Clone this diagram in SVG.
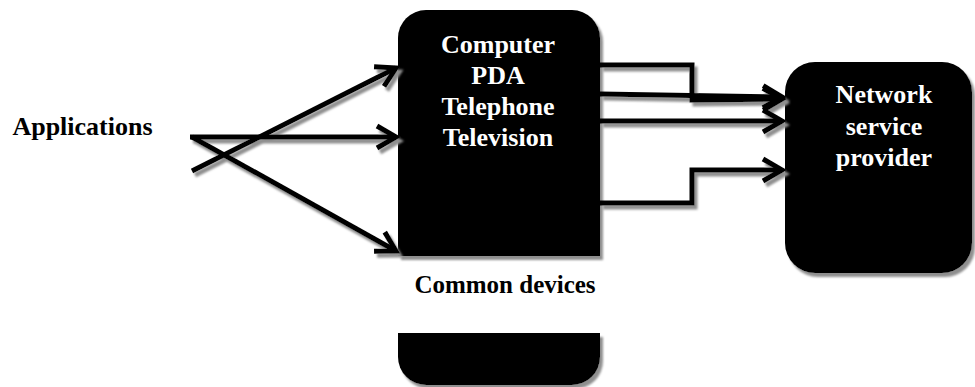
<svg xmlns="http://www.w3.org/2000/svg" width="975" height="387" viewBox="0 0 975 387">
<defs>
<filter id="sh" x="-10%" y="-10%" width="130%" height="130%">
<feDropShadow dx="3" dy="4" stdDeviation="0.9" flood-color="#8f8f8f" flood-opacity="1"/>
</filter>
<marker id="ah" markerUnits="userSpaceOnUse" markerWidth="30" markerHeight="30" viewBox="-25 -15 30 30" refX="0" refY="0" orient="auto" overflow="visible">
<path d="M-19,-11 L0,0 L-19,11" fill="none" stroke="#000" stroke-width="5"/>
</marker>
</defs>
<style>
.box{fill:#000;filter:url(#sh)}
.w{fill:#fff;font-family:"Liberation Serif","Times New Roman",serif;font-weight:bold;font-size:26px;text-anchor:middle}
.k{fill:#000;font-family:"Liberation Serif","Times New Roman",serif;font-weight:bold;text-anchor:middle}
.c{fill:none;stroke:#000;stroke-width:5;stroke-linejoin:miter}
</style>
<g id="applications">
<text class="k" x="82.5" y="135" font-size="26">Applications</text>
</g>
<g id="devices">
<path class="box" d="M398,256 L398,38 A28,28 0 0 1 426,10 L572,10 A28,28 0 0 1 600,38 L600,256 Z"/>
<path class="box" d="M398,333 L600,333 L600,357 A28,28 0 0 1 572,385 L426,385 A28,28 0 0 1 398,357 Z"/>
<text class="w" x="498" y="53">Computer</text>
<text class="w" x="498" y="84">PDA</text>
<text class="w" x="498" y="115">Telephone</text>
<text class="w" x="498" y="146">Television</text>
<text class="k" x="505" y="293" font-size="25">Common devices</text>
</g>
<g id="provider">
<rect class="box" x="785" y="62" width="187" height="211" rx="30" ry="30"/>
<text class="w" x="884" y="103">Network</text>
<text class="w" x="884" y="135">service</text>
<text class="w" x="884" y="166">provider</text>
</g>
<g id="connectors" filter="url(#sh)">
<path class="c" d="M192,171 L396,68" marker-end="url(#ah)"/>
<path class="c" d="M190,137 L396,137" marker-end="url(#ah)"/>
<path class="c" d="M192,137 L396,251" marker-end="url(#ah)"/>
<path class="c" d="M600,65 L692,65 L692,100 L782,99" marker-end="url(#ah)"/>
<path class="c" d="M600,94 L782,97" marker-end="url(#ah)"/>
<path class="c" d="M600,121 L782,121" marker-end="url(#ah)"/>
<path class="c" d="M600,203 L692,203 L692,170 L782,170" marker-end="url(#ah)"/>
</g>
</svg>
